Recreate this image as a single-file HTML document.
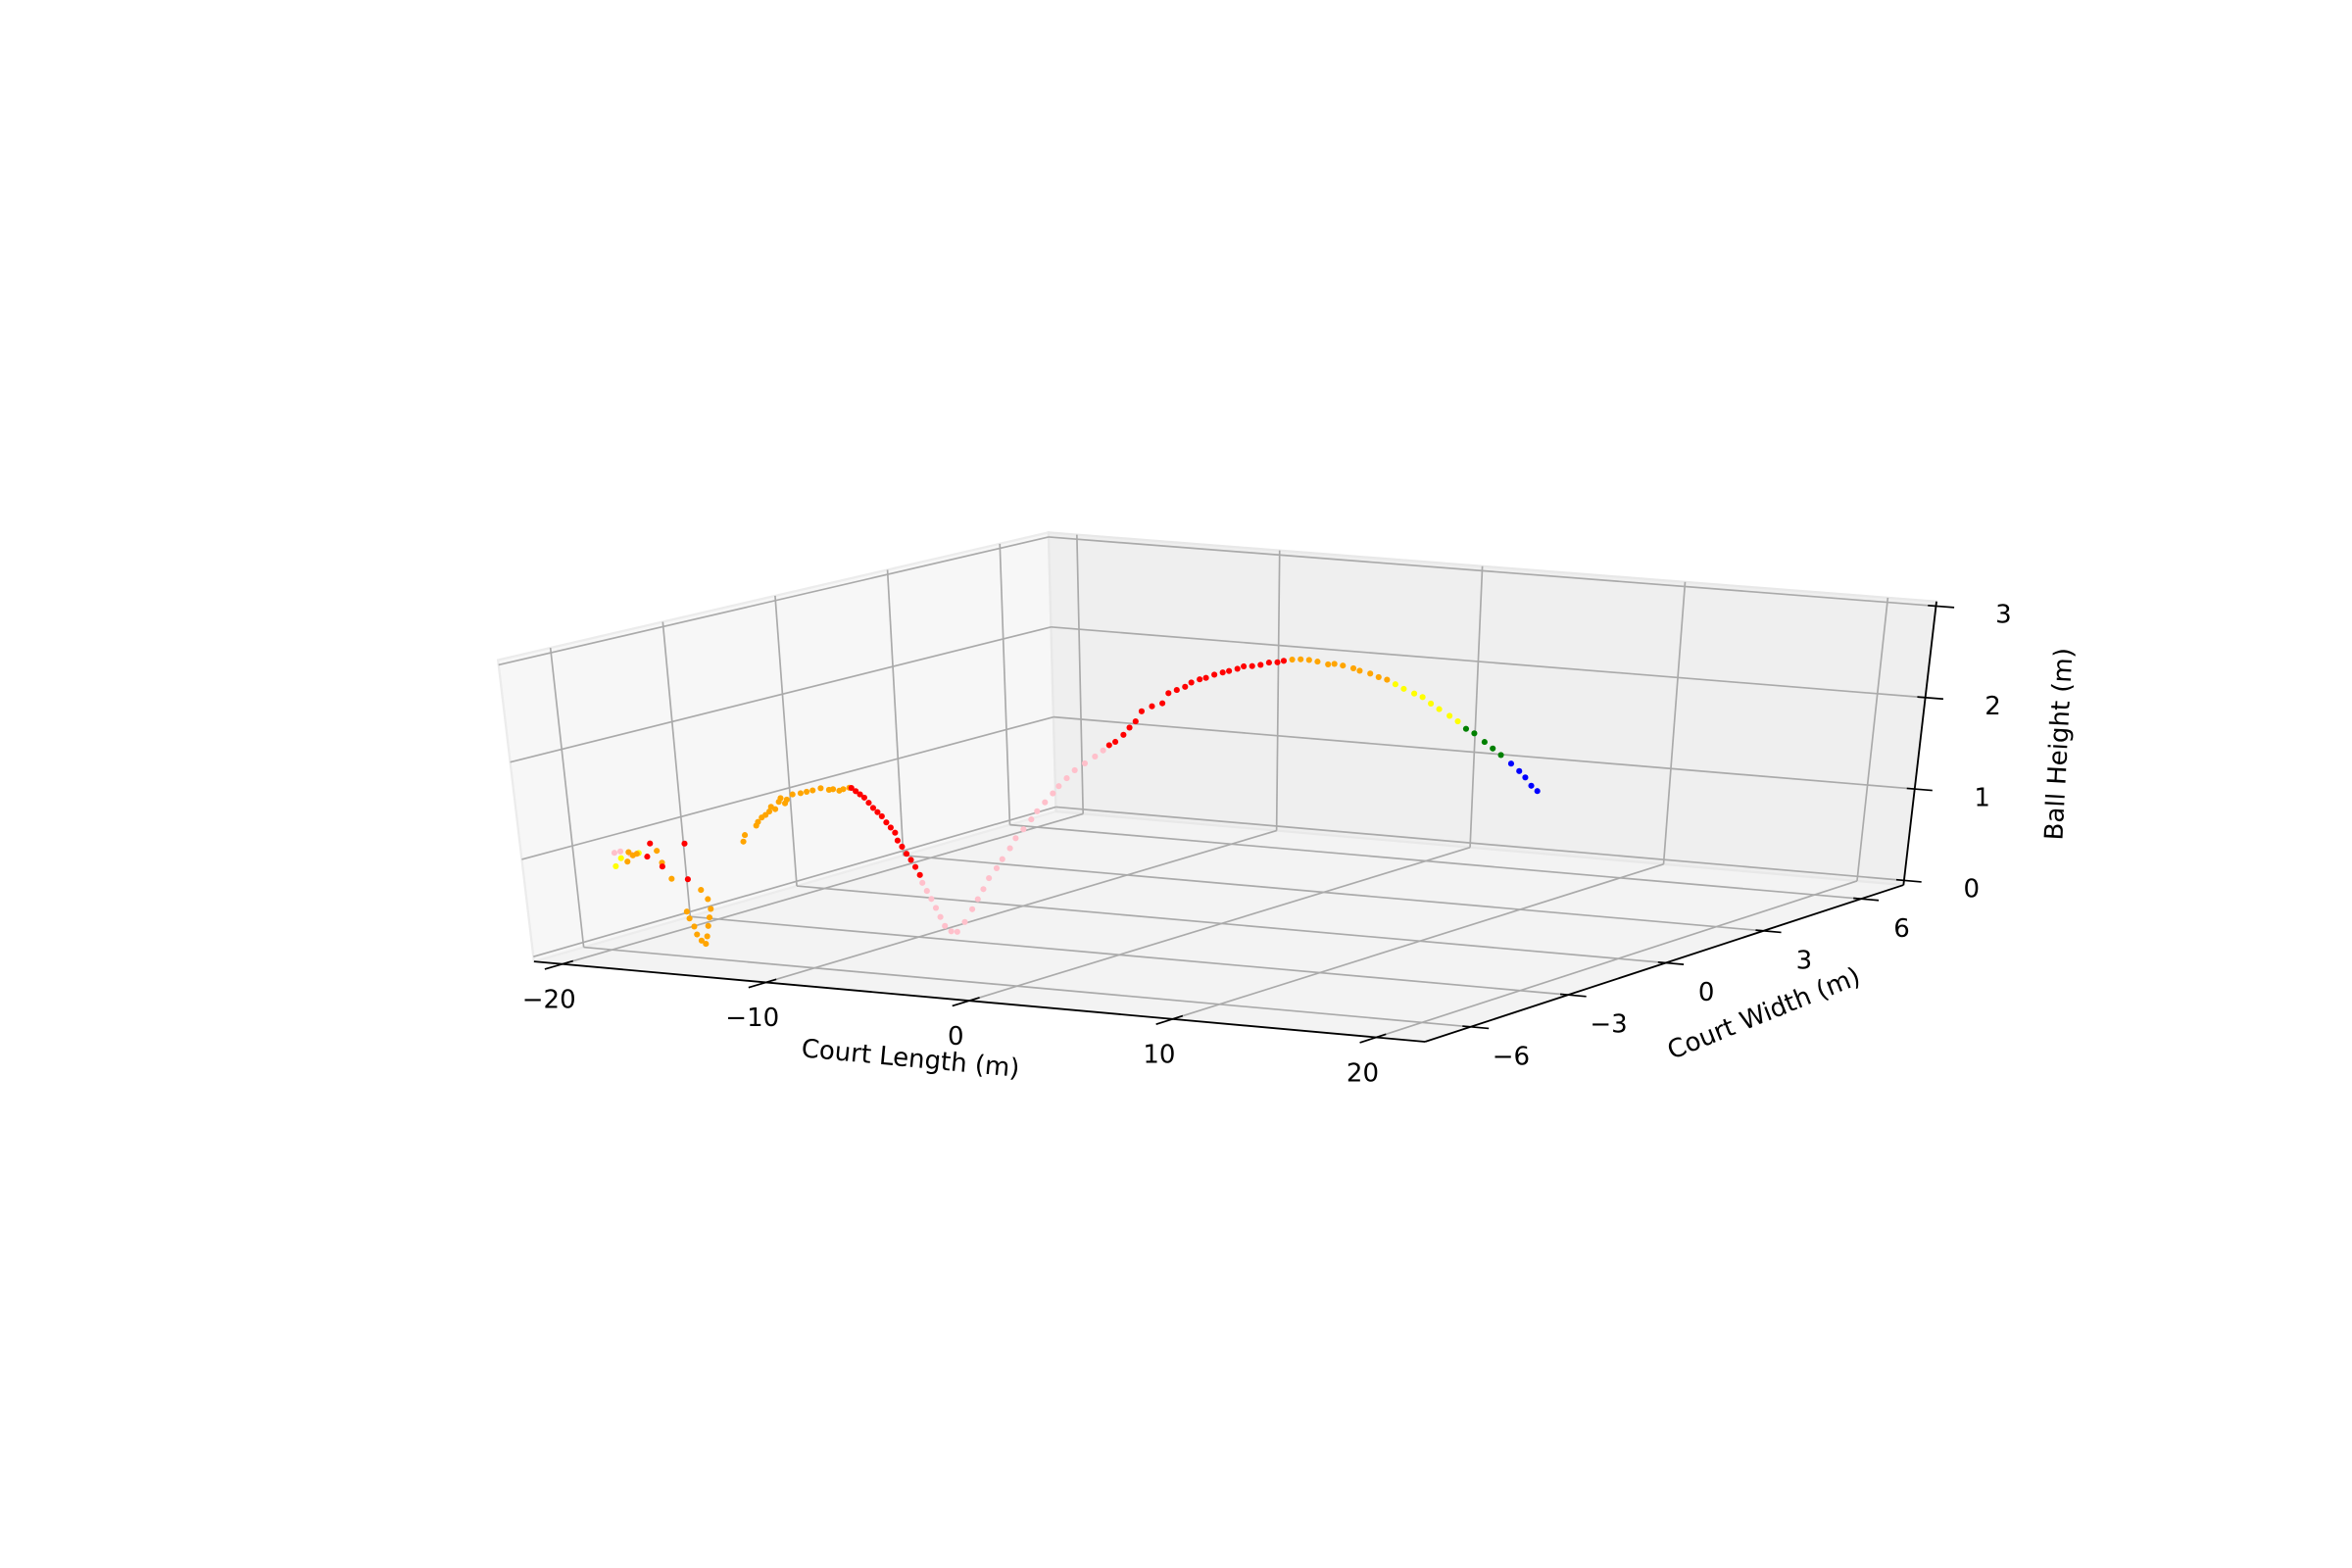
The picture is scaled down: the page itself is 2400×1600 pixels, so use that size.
<!DOCTYPE html>
<html>
<head>
<meta charset="utf-8">
<style>
  html,body{margin:0;padding:0;background:#fff;}
  svg{display:block;font-family:"DejaVu Sans","Liberation Sans",sans-serif;}
</style>
</head>
<body>
<svg id="chart" width="2400" height="1600" viewBox="0 0 1568 1045.33" xmlns="http://www.w3.org/2000/svg">
  <rect x="0" y="0" width="1568" height="1045.33" fill="#ffffff"/>
  <g id="panes"></g>
  <g id="grid"></g>
  <g id="axes"></g>
  <g id="points"></g>
  <g id="labels"></g>
</svg>
<script>
// ---- axis limits and ticks ----
const xLimits = [-21.4, 22.4];
const yLimits = [-7.4, 7.3];
const zLimits = [-0.05, 3.05];
const xTicks = [-20, -10, 0, 10, 20];
const xTickLabels = ["\u221220", "\u221210", "0", "10", "20"];
const yTicks = [-6, -3, 0, 3, 6];
const yTickLabels = ["\u22126", "\u22123", "0", "3", "6"];
const zTicks = [0, 1, 2, 3];
const zTickLabels = ["0", "1", "2", "3"];

// ---- trajectory data (court length x, court width y, height z, phase colour) ----
const xVals = [
 -21.2,-20.9,-20.4,
 -21.2,-20.9,-20.0,
 -20.6,-20.5,-20.3,-20.1,-19.1,-18.9,-18.5,
 -19.4,-19.6,-18.9,-17.7,-17.7,
 -17.1,-16.8,-16.7,-16.8,-16.9,-17.0,-17.1,-17.3,-17.5,-17.6,-17.8,-17.9,
 -16.6,-16.5,-15.9,-15.8,-15.6,-15.4,-15.2,-15.1,-14.9,-14.7,-14.6,-14.4,-14.3,-14.0,-13.6,-13.3,-13.0,-12.6,-12.2,-12.0,-11.7,-11.5,-11.2,
 -11.1,-10.9,-10.7,-10.5,-10.3,-10.1,-9.9,-9.7,-9.5,-9.3,-9.1,-9.0,-8.8,-8.6,-8.4,-8.2,-8.0,
 -7.9,-7.7,-7.5,-7.3,-7.1,-6.9,-6.6,-6.3,-5.9,-5.5,-5.2,-4.9,-4.6,-4.2,-3.9,-3.5,-3.2,-2.8,-2.4,-2.1,-1.7,-1.3,-1.0,-0.6,-0.2,0.3,0.8,1.2,
 1.5,1.8,2.2,2.5,2.8,3.1,3.6,4.1,4.4,4.8,5.2,5.5,5.9,6.2,6.6,7.0,7.3,7.7,8.0,8.4,8.8,9.2,9.6,9.9,
 10.3,10.7,11.1,11.5,12.0,12.3,12.7,13.2,13.5,14.0,14.4,14.8,
 15.2,15.6,16.1,16.5,16.9,17.3,17.8,18.2,
 18.6,19.0,19.5,19.9,20.3,
 20.8,21.2,21.5,21.8,22.1
];
const yVals = [
 -5,-5,-5,
 -5,-5,-5,
 -5,-5,-5,-5,-5,-5,-5,
 -5,-5,-5,-5,-5,
 -5,-5,-5,-5,-5,-5,-5,-5,-5,-5,-5,-5,
 -4,-4,-4,-4,-4,-4,-4,-4,-4,-4,-4,-4,-4,-4,-4,-4,-4,-4,-4,-4,-4,-4,-4,
 -4,-4,-4,-4,-4,-4,-4,-4,-4,-4,-4,-4,-4,-4,-4,-4,-4,
 -4,-4,-4,-4,-4,-4,-4,-4,-4,-4,-4,-4,-4,-4,-4,-4,-4,-4,-4,-4,-4,-4,-4,-4,-4,-4,-4,-4,
 -4,-4,-4,-4,-4,-4,-4,-4,-4,-4,-4,-4,-4,-4,-4,-4,-4,-4,-4,-4,-4,-4,-4,-4,
 -4,-4,-4,-4,-4,-4,-4,-4,-4,-4,-4,-4,
 -4,-4,-4,-4,-4,-4,-4,-4,
 -4,-4,-4,-4,-4,
 -4,-4,-4,-4,-4
];
const zVals = [
 0.83,0.85,0.83,
 0.69,0.78,0.85,
 0.75,0.85,0.82,0.84,0.89,0.77,0.61,
 0.96,0.82,0.73,0.99,0.62,
 0.52,0.43,0.33,0.24,0.15,0.04,-0.04,-0.01,0.05,0.13,0.21,0.28,
 0.93,1.00,1.11,1.15,1.20,1.23,1.27,1.32,1.30,1.38,1.42,1.37,1.41,1.47,1.49,1.51,1.53,1.56,1.55,1.56,1.55,1.57,1.59,
 1.59,1.56,1.53,1.50,1.45,1.40,1.36,1.32,1.26,1.21,1.16,1.08,1.02,0.95,0.89,0.82,0.74,
 0.66,0.58,0.50,0.41,0.32,0.23,0.18,0.18,0.29,0.43,0.54,0.65,0.77,0.88,0.98,1.10,1.21,1.31,1.42,1.51,1.61,1.71,1.79,1.88,1.97,2.05,2.13,2.20,
 2.26,2.30,2.38,2.46,2.53,2.64,2.70,2.74,2.85,2.89,2.93,2.98,3.02,3.04,3.08,3.11,3.13,3.16,3.19,3.20,3.22,3.25,3.26,3.28,
 3.30,3.31,3.31,3.30,3.28,3.29,3.28,3.26,3.24,3.22,3.19,3.17,
 3.13,3.09,3.05,3.02,2.96,2.91,2.85,2.80,
 2.73,2.69,2.61,2.55,2.49,
 2.41,2.34,2.28,2.20,2.15
];
const phaseCounts = [
 ["pink",3],["yellow",3],["orange",7],["red",5],["orange",12],
 ["orange",23],["red",17],["pink",28],["red",24],["orange",12],
 ["yellow",8],["green",5],["blue",5]
];
const phaseColors = {pink:"#ffc0cb", red:"#ff0000", orange:"#ffa500", yellow:"#ffff00", green:"#008000", blue:"#0000ff"};

// ---- projection (box corners on screen, viewBox units) ----
const boxBottom = {A:[356,641], B:[950,694.5], C:[1269,590], D:[704,541]};
const boxTop    = {A:[332,440], B:[953,490],   C:[1291,401], D:[699,355]};

function bilerp(c,u,v){
  const x = c.A[0]*(1-u)*(1-v) + c.B[0]*u*(1-v) + c.C[0]*u*v + c.D[0]*(1-u)*v;
  const y = c.A[1]*(1-u)*(1-v) + c.B[1]*u*(1-v) + c.C[1]*u*v + c.D[1]*(1-u)*v;
  return [x,y];
}
function project(x,y,z){
  const u=(x-xLimits[0])/(xLimits[1]-xLimits[0]);
  const v=(y-yLimits[0])/(yLimits[1]-yLimits[0]);
  const w=(z-zLimits[0])/(zLimits[1]-zLimits[0]);
  const b=bilerp(boxBottom,u,v), t=bilerp(boxTop,u,v);
  return [b[0]+(t[0]-b[0])*w, b[1]+(t[1]-b[1])*w];
}

const NS="http://www.w3.org/2000/svg";
function mk(tag, parent){ const e=document.createElementNS(NS,tag); parent.appendChild(e); return e; }
function polyPts(list){ return list.map(p=>p[0].toFixed(2)+","+p[1].toFixed(2)).join(" "); }

const [x0,x1]=xLimits, [y0,y1]=yLimits, [z0,z1]=zLimits;

// panes
const panes=document.getElementById("panes");
const floor=mk("polygon",panes);


floor.setAttribute("points", polyPts([project(x0,y0,z0),project(x1,y0,z0),project(x1,y1,z0),project(x0,y1,z0)]));
floor.setAttribute("fill","#f3f3f3"); floor.setAttribute("stroke","#ececec"); floor.setAttribute("stroke-width","1");
const leftWall=mk("polygon",panes);


leftWall.setAttribute("points", polyPts([project(x0,y0,z0),project(x0,y1,z0),project(x0,y1,z1),project(x0,y0,z1)]));
leftWall.setAttribute("fill","#f7f7f7"); leftWall.setAttribute("stroke","#ececec"); leftWall.setAttribute("stroke-width","1.5");
const backWall=mk("polygon",panes);


backWall.setAttribute("points", polyPts([project(x0,y1,z0),project(x1,y1,z0),project(x1,y1,z1),project(x0,y1,z1)]));
backWall.setAttribute("fill","#efefef"); backWall.setAttribute("stroke","#e8e8e8"); backWall.setAttribute("stroke-width","1.5");

// gridlines
const grid=document.getElementById("grid");
function gline(p,q,name){
  const l=mk("line",grid);
  
  
  l.setAttribute("x1",p[0]); l.setAttribute("y1",p[1]); l.setAttribute("x2",q[0]); l.setAttribute("y2",q[1]);
  l.setAttribute("stroke","#aaaaaa"); l.setAttribute("stroke-width","1.1");
}
xTicks.forEach(t=>{
  gline(project(t,y0,z0),project(t,y1,z0),"x-gridline-floor");
  gline(project(t,y1,z0),project(t,y1,z1),"x-gridline-back");
});
yTicks.forEach(t=>{
  gline(project(x0,t,z0),project(x1,t,z0),"y-gridline-floor");
  gline(project(x0,t,z0),project(x0,t,z1),"y-gridline-left");
});
zTicks.forEach(t=>{
  gline(project(x0,y0,t),project(x0,y1,t),"z-gridline-left");
  gline(project(x0,y1,t),project(x1,y1,t),"z-gridline-back");
});

// axis lines & ticks
const axes=document.getElementById("axes");
function aline(p,q,name,w){
  const l=mk("line",axes);
  
  
  l.setAttribute("x1",p[0]); l.setAttribute("y1",p[1]); l.setAttribute("x2",q[0]); l.setAttribute("y2",q[1]);
  l.setAttribute("stroke","#000"); l.setAttribute("stroke-width",w);
}
aline(project(x0,y0,z0),project(x1,y0,z0),"x-axis-line",1.2);
aline(project(x1,y0,z0),project(x1,y1,z0),"y-axis-line",1.2);
aline(project(x1,y1,z0),project(x1,y1,z1),"z-axis-line",1.2);
xTicks.forEach(t=>aline(project(t,y0+0.3,z0),project(t,y0-0.5,z0),"x-tick",1.1));
yTicks.forEach(t=>aline(project(x1-0.4,t,z0),project(x1+0.9,t,z0),"y-tick",1.1));
zTicks.forEach(t=>aline(project(x1-0.4,y1,t),project(x1+0.9,y1,t),"z-tick",1.1));

// points
const pts=document.getElementById("points");
let idx=0;
phaseCounts.forEach(([phase,count])=>{
  for(let k=0;k<count && idx<xVals.length;k++,idx++){
    const p=project(xVals[idx],yVals[idx],zVals[idx]);
    const c=mk("circle",pts);
    
    
    c.setAttribute("cx",p[0].toFixed(2)); c.setAttribute("cy",p[1].toFixed(2));
    c.setAttribute("r","2");
    c.setAttribute("fill",phaseColors[phase]);
  }
});

// labels
const labels=document.getElementById("labels");
function txt(s,x,y,name,rot,anchor){
  const t=mk("text",labels);
  
  
  t.setAttribute("x",x); t.setAttribute("y",y);
  t.setAttribute("font-size","17");
  t.setAttribute("fill","#000");
  t.setAttribute("text-anchor",anchor||"middle");
  t.setAttribute("dominant-baseline","central");
  if(rot) t.setAttribute("transform","rotate("+rot+" "+x+" "+y+")");
  t.textContent=s;
}
xTicks.forEach((t,i)=>{ const p=project(t,y0,z0); txt(xTickLabels[i],p[0]-9,p[1]+24,"x-tick-label"); });
yTicks.forEach((t,i)=>{ const p=project(x1,t,z0); txt(yTickLabels[i],p[0]+27,p[1]+20,"y-tick-label"); });
zTicks.forEach((t,i)=>{ const p=project(x1,y1,t); txt(zTickLabels[i],p[0]+45,p[1]+6,"z-tick-label"); });
txt("Court Length (m)",607,706,"x-axis-title",5.3);
txt("Court Width (m)",1176,676,"y-axis-title",-22);
txt("Ball Height (m)",1373,496,"z-axis-title",-87);
</script>
</body>
</html>
